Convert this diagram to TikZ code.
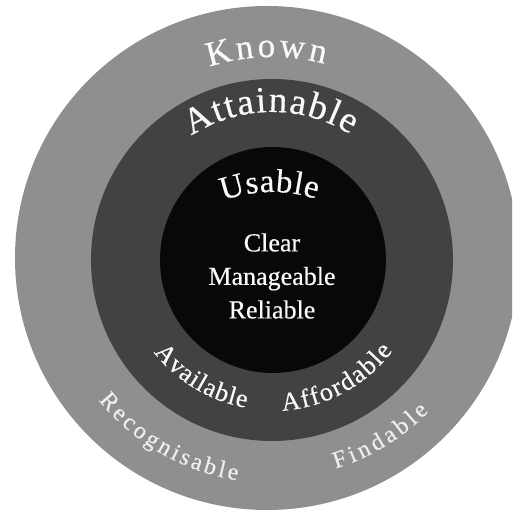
\documentclass[tikz,border=0pt]{standalone}
\usepackage{fontspec}
\setmainfont{Liberation Serif}[FakeBold=0.4]
\usetikzlibrary{decorations.text}

\definecolor{ringgray}{RGB}{143,143,143}
\definecolor{ringdark}{RGB}{66,66,66}
\definecolor{corefill}{RGB}{8,8,8}
\definecolor{textwhite}{RGB}{250,250,250}
\definecolor{textsoft}{RGB}{238,238,238}

\newcommand\sizeKnown{\fontsize{35}{38}\selectfont}
\newcommand\sizeAttain{\fontsize{37}{40}\selectfont}
\newcommand\sizeUse{\fontsize{33}{36}\selectfont}
\newcommand\sizeMid{\fontsize{26}{30}\selectfont}
\newcommand\sizeLow{\fontsize{24}{28}\selectfont}

\begin{document}
\begin{tikzpicture}[x=1pt,y=1pt,
  disc/.style={circle, inner sep=0pt, draw=none},
  arctext/.style={decorate, decoration={text along path, text={#1},
      text align={fit to path}, text color=textwhite}},
  arcsoft/.style={decorate, decoration={text along path, text={#1},
      text align={fit to path}, text color=textsoft}}]
\useasboundingbox (0,0) rectangle (512,513);
\clip (0,0) rectangle (512,513);

% three nested discs
\node[disc, fill=ringgray, minimum size=504pt] (known) at (267,255) {};
\node[disc, fill=ringdark, minimum size=362pt] (attainable) at (272,253) {};
\node[disc, fill=corefill, minimum size=226pt] (usable) at (273,253) {};

\coordinate (c) at (272,253);
\coordinate (cu) at (272,178);

% ring titles, arched over the top
\path[arctext=|\sizeKnown|Known]
  ([shift={(108:203)}]c) arc[start angle=108, end angle=75, radius=203];
\path[arctext=|\sizeAttain|Attainable]
  ([shift={(123:148)}]c) arc[start angle=123, end angle=58, radius=148];
\path[arctext=|\sizeUse|Usable]
  ([shift={(110:143)}]cu) arc[start angle=110, end angle=72, radius=143];

% qualities, set along the bottom of each ring
\path[arctext=|\sizeMid|Available]
  ([shift={(218:150)}]c) arc[start angle=218, end angle=260, radius=150];
\path[arctext=|\sizeMid|Affordable]
  ([shift={(274:151)}]c) arc[start angle=274, end angle=323, radius=151];
\path[arcsoft=|\sizeLow|Recognisable]
  ([shift={(219:223)}]c) arc[start angle=219, end angle=261, radius=223];
\path[arcsoft=|\sizeLow|Findable]
  ([shift={(287:218)}]c) arc[start angle=287, end angle=316, radius=218];

% core qualities
\node[align=center, text=textwhite, font=\fontsize{26}{33.5}\selectfont]
  (core) at (272,237) {Clear\\Manageable\\Reliable};
\end{tikzpicture}
\end{document}
